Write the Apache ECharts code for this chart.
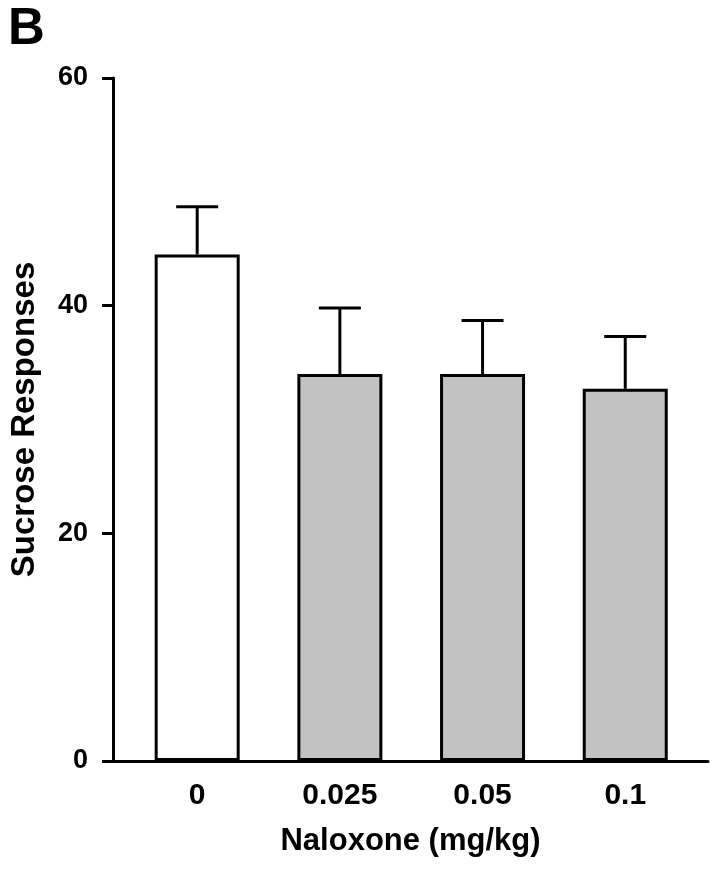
<!DOCTYPE html>
<html>
<head>
<meta charset="utf-8">
<script src="https://cdn.jsdelivr.net/npm/echarts@6/dist/echarts.min.js"></script>
<style>
  html, body { margin: 0; padding: 0; background: #fff; }
  #chart { width: 714px; height: 870px; }
</style>
</head>
<body>
<div id="chart"></div>
<script>
// data
var doses = ['0', '0.025', '0.05', '0.1']
var positions = [1, 2, 3, 4]
var means = [44.5, 34.0, 34.0, 32.7]
var sems = [4.2, 5.8, 4.7, 4.6]
var yTicks = [0, 20, 40, 60]

var fillColors = ['#ffffff', '#c2c2c2', '#c2c2c2', '#c2c2c2']
var font = '"Liberation Sans", Arial, sans-serif'

var chart = echarts.init(document.getElementById('chart'))

chart.setOption({
  backgroundColor: '#ffffff',
  animation: false,
  title: {
    text: 'B',
    left: 3,
    top: -1,
    textStyle: { fontFamily: font, fontWeight: 'bold', fontSize: 51, color: '#000' }
  },
  grid: { left: 111, right: 6, top: 78, bottom: 109 },
  xAxis: {
    type: 'value',
    min: 0.41,
    max: 4.58,
    name: 'Naloxone (mg/kg)',
    nameLocation: 'middle',
    nameGap: 65,
    nameTextStyle: { fontFamily: font, fontWeight: 'bold', fontSize: 31, color: '#000' },
    axisLine: { show: true, lineStyle: { color: '#000', width: 3 } },
    axisTick: { show: false },
    splitLine: { show: false },
    axisLabel: {
      customValues: positions,
      margin: 20,
      fontFamily: font,
      fontWeight: 'bold',
      fontSize: 30,
      color: '#000',
      formatter: function (v) { return doses[Math.round(v) - 1] }
    }
  },
  yAxis: {
    type: 'value',
    min: 0,
    max: 60,
    interval: 20,
    name: 'Sucrose Responses',
    nameLocation: 'middle',
    nameGap: 72,
    nameTextStyle: { fontFamily: font, fontWeight: 'bold', fontSize: 33, color: '#000' },
    axisLine: { show: true, lineStyle: { color: '#000', width: 3 } },
    axisTick: { show: true, length: 11, lineStyle: { color: '#000', width: 3 } },
    splitLine: { show: false },
    axisLabel: {
      customValues: yTicks,
      margin: 25,
      fontFamily: font,
      fontWeight: 'bold',
      fontSize: 27,
      color: '#000'
    }
  },
  series: [{
    type: 'bar',
    barWidth: 85,
    itemStyle: { borderColor: '#000', borderWidth: 3 },
    data: means.map(function (m, i) {
      return { value: [positions[i], m], itemStyle: { color: fillColors[i] } }
    }),
    z: 2
  }, {
    // error bars (mean + SEM only)
    type: 'custom',
    data: means.map(function (m, i) { return [positions[i], m, m + sems[i]] }),
    renderItem: function (params, api) {
      var base = api.coord([api.value(0), api.value(1)])
      var top = api.coord([api.value(0), api.value(2)])
      var half = 21
      var style = { stroke: '#000', lineWidth: 3, fill: null }
      return {
        type: 'group',
        children: [
          { type: 'line', shape: { x1: base[0], y1: base[1], x2: top[0], y2: top[1] }, style: style },
          { type: 'line', shape: { x1: top[0] - half, y1: top[1], x2: top[0] + half, y2: top[1] }, style: style }
        ]
      }
    },
    z: 3
  }]
})
</script>
</body>
</html>
